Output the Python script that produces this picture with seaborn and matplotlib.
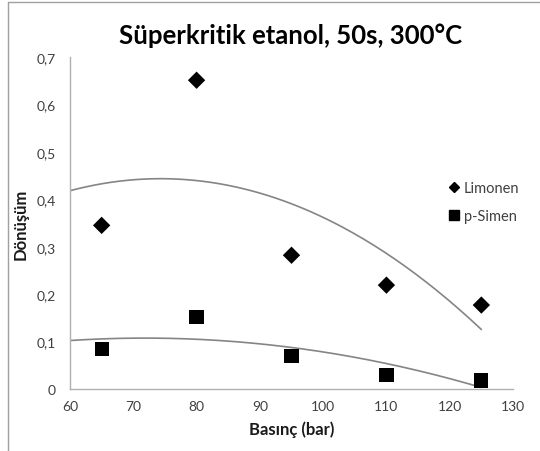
import numpy as np
import pandas as pd
import seaborn as sns
import matplotlib
matplotlib.use("Agg")
import matplotlib.pyplot as plt
from matplotlib.lines import Line2D
from matplotlib.ticker import FuncFormatter

pressure = [65, 80, 95, 110, 125]
limonen = [0.345, 0.651, 0.282, 0.219, 0.177]
psimen = [0.085, 0.152, 0.070, 0.030, 0.018]
series_names = ["Limonen", "p-Simen"]
x_ticks = [60, 70, 80, 90, 100, 110, 120, 130]
y_ticks = [0, 0.1, 0.2, 0.3, 0.4, 0.5, 0.6, 0.7]

sns.set_theme(style="white")
plt.rcParams['font.family'] = ['Lato', 'DejaVu Sans']

df_lim = pd.DataFrame({"Basınç": pressure, "Dönüşüm": limonen})
df_sim = pd.DataFrame({"Basınç": pressure, "Dönüşüm": psimen})

W, H = 540, 452
fig = plt.figure(figsize=(W / 100, H / 100), dpi=100)
L, R, T, B = 70, 513, 58, 390
ax = fig.add_axes([L / W, 1 - B / H, (R - L) / W, (B - T) / H])

# trend lines (2nd order polynomial fits, extended back to 60)
xs = np.linspace(60, 125, 200)
for vals in (limonen, psimen):
    coef = np.polyfit(pressure, vals, 2)
    sns.lineplot(x=xs, y=np.polyval(coef, xs), ax=ax, color="#858585", lw=1.2, legend=False)

sns.scatterplot(data=df_lim, x="Basınç", y="Dönüşüm", marker="D", color="black",
                s=78, edgecolor="none", ax=ax, zorder=3)
sns.scatterplot(data=df_sim, x="Basınç", y="Dönüşüm", marker="s", color="black",
                s=105, edgecolor="none", ax=ax, zorder=3)

ax.set_xlim(60, 130)
ax.set_ylim(0, 0.7)
ax.set_xticks(x_ticks)
ax.set_yticks(y_ticks)
ax.yaxis.set_major_formatter(FuncFormatter(lambda v, p: "0" if v == 0 else f"{v:.1f}".replace(".", ",")))
ax.tick_params(axis="both", direction="in", length=4, width=0.9, color="#b0b0b0",
               labelsize=10, labelcolor="#404040")
ax.tick_params(axis="x", pad=8)
ax.tick_params(axis="y", pad=10)
for s in ["top", "right"]:
    ax.spines[s].set_visible(False)
for s in ["left", "bottom"]:
    ax.spines[s].set_color("#b0b0b0")
    ax.spines[s].set_linewidth(1.0)

ax.set_xlabel("Basınç (bar)", fontsize=12, fontweight="bold", color="#1a1a1a", labelpad=6)
ax.set_ylabel("Dönüşüm", fontsize=12, fontweight="bold", color="#1a1a1a", labelpad=6)

fig.text(291 / W, 1 - 36 / H, "Süperkritik etanol, 50s, 300°C", ha="center", va="center",
         fontsize=18.5, fontweight="bold", color="black")

# legend
handles = [Line2D([], [], marker="D", color="black", ls="none", markersize=5),
           Line2D([], [], marker="s", color="black", ls="none", markersize=7)]
leg = fig.legend(handles, series_names, loc="center left", bbox_to_anchor=(447 / W, 1 - 203 / H),
                 frameon=False, fontsize=10.5, handletextpad=0.15, handlelength=1.0,
                 labelspacing=1.0, borderaxespad=0, borderpad=0)
for t in leg.get_texts():
    t.set_color("#404040")

# outer chart border (partially visible: left and top edges)
fig.add_artist(Line2D([8 / W, 8 / W], [0, 1 - 3 / H], transform=fig.transFigure,
                      color="#a0a0a0", lw=1.0))
fig.add_artist(Line2D([8 / W, 1], [1 - 3 / H, 1 - 3 / H], transform=fig.transFigure,
                      color="#a0a0a0", lw=1.0))

fig.savefig("out.png", dpi=100)
